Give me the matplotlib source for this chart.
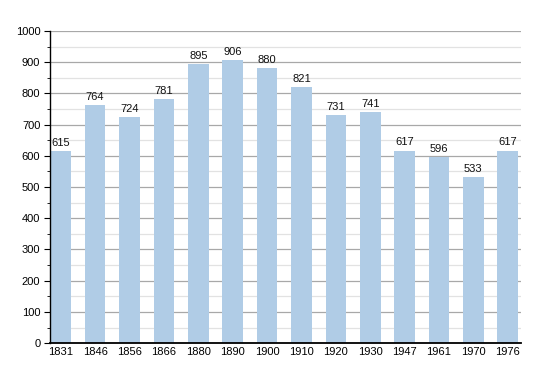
import matplotlib
matplotlib.use("Agg")
import matplotlib.pyplot as plt
import numpy as np

plt.rcParams["font.family"] = ["Liberation Sans", "DejaVu Sans"]

years = ["1831", "1846", "1856", "1866", "1880", "1890", "1900",
         "1910", "1920", "1930", "1947", "1961", "1970", "1976"]
population = [615, 764, 724, 781, 895, 906, 880, 821, 731, 741, 617, 596, 533, 617]

fig = plt.figure(figsize=(5.5, 3.73), dpi=100)
ax = fig.add_axes([0.091, 0.080, 0.856, 0.837])

x = np.arange(len(years))
ax.bar(x, population, width=0.6, color="#b0cce6", zorder=2)

for xi, v in zip(x, population):
    ax.text(xi, v + 10, str(v), ha="center", va="bottom", fontsize=8, color="#111111", zorder=3)

ax.set_xlim(-0.31, len(years) - 0.62)
ax.set_ylim(0, 1000)
ax.set_yticks(np.arange(0, 1001, 100))
ax.set_yticks(np.arange(50, 1000, 100), minor=True)
ax.set_xticks(x)
ax.set_xticklabels(years)

ax.grid(axis="y", which="major", color="#a8a8a8", linewidth=0.9, zorder=0)
ax.grid(axis="y", which="minor", color="#e2e2e2", linewidth=0.9, zorder=0)

for s in ["top", "right"]:
    ax.spines[s].set_visible(False)
ax.spines["left"].set_linewidth(1.0)
ax.spines["bottom"].set_linewidth(1.3)

ax.tick_params(axis="y", which="major", length=4, labelsize=8, pad=3)
ax.tick_params(axis="y", which="minor", length=2)
ax.tick_params(axis="x", length=0, labelsize=8, pad=3)

fig.savefig("out.png", dpi=100)
